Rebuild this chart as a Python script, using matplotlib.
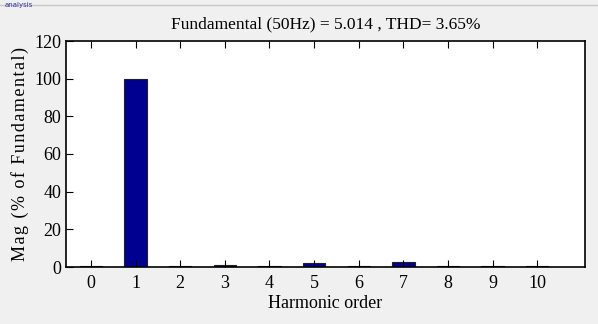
import numpy as np
import matplotlib.pyplot as plt
from matplotlib.lines import Line2D

plt.rcParams['font.family'] = ['Liberation Serif', 'DejaVu Serif']

harmonics = [0, 1, 2, 3, 4, 5, 6, 7, 8, 9, 10]
mags = [0.3, 100, 0.3, 0.8, 0.3, 2.0, 0.3, 2.5, 0.3, 0.3, 0.3]
title = 'Fundamental (50Hz) = 5.014 , THD= 3.65%'
ylabel = 'Mag (% of Fundamental)'

fig = plt.figure(figsize=(5.98, 3.24), dpi=100, facecolor='#f0f0f0')
fig.add_artist(Line2D([0, 1], [1 - 5/324, 1 - 5/324], color='#c8c8c8', lw=1))
ax = fig.add_axes([66/598, 1 - 267/324, (585-66)/598, (267-41)/324])
ax.bar(harmonics, mags, width=0.5, color='#000090', edgecolor='#202020', linewidth=0.8)
ax.set_xlim(-0.56, 11.07)
ax.set_ylim(0, 120)
ax.set_xticks(harmonics)
ax.set_yticks(np.arange(0, 121, 20))
ax.tick_params(direction='in', top=True, right=False, labelsize=13, length=5, width=0.8)
ax.tick_params(axis='x', pad=6)
for s in ax.spines.values():
    s.set_linewidth(1.2)
ax.set_title(title, fontsize=12.5, pad=9)
ax.set_xlabel('Harmonic order', fontsize=13, labelpad=2)
ax.set_ylabel('\u200a'.join(ylabel), fontsize=13, labelpad=4)
fig.text(0.008, 0.995, 'analysis', fontsize=5, color='#3030a0', va='top', family='DejaVu Sans')

fig.savefig('out.png', dpi=100, facecolor=fig.get_facecolor())
